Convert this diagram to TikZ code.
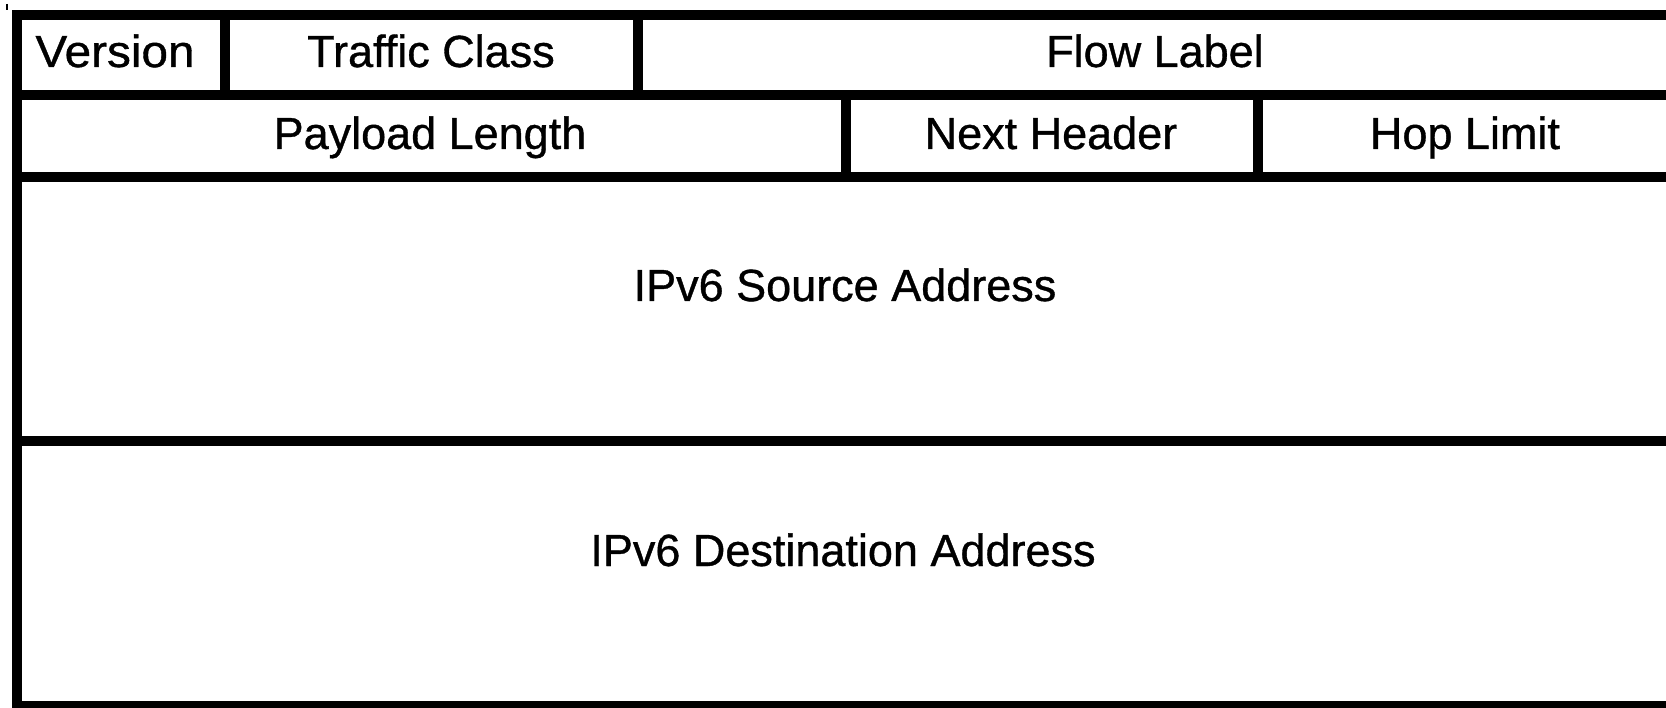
\documentclass[tikz,border=0pt]{standalone}
\usepackage{fontspec}
\setmainfont[FakeBold=0.8]{Liberation Sans}
\begin{document}
\begin{tikzpicture}[x=1pt,y=-1pt,
  gridline/.style={line width=10pt, draw=black},
  lbl/.style={anchor=base, inner sep=0pt, font=\fontsize{45}{54}\selectfont}]
\useasboundingbox (0,0) rectangle (1666,708);
\fill[white] (0,0) rectangle (1666,708);
% stray tick at top left
\draw[line width=2pt] (7,4) -- (7,10);
% outer frame (right edge lies beyond the page)
\draw[gridline] (17,15) rectangle (1690,706);
% horizontal separators
\draw[gridline] (17,95) -- (1690,95);
\draw[gridline] (17,177) -- (1690,177);
\draw[gridline] (17,441) -- (1690,441);
% vertical separators, row 1
\draw[gridline] (224.5,15) -- (224.5,95);
\draw[gridline] (638,15) -- (638,95);
% vertical separators, row 2
\draw[gridline] (846,95) -- (846,177);
\draw[gridline] (1258,95) -- (1258,177);
% labels
\node[lbl, xscale=1.06] (version) at (115,67) {Version};
\node[lbl] (tclass) at (431,67) {Traffic Class};
\node[lbl] (flow) at (1155,67) {Flow Label};
\node[lbl] (payload) at (430,149) {Payload Length};
\node[lbl] (next) at (1051,149) {Next Header};
\node[lbl] (hop) at (1465,149) {Hop Limit};
\node[lbl] (src) at (845,301) {IPv6 Source Address};
\node[lbl] (dst) at (843,566) {IPv6 Destination Address};
\end{tikzpicture}
\end{document}
